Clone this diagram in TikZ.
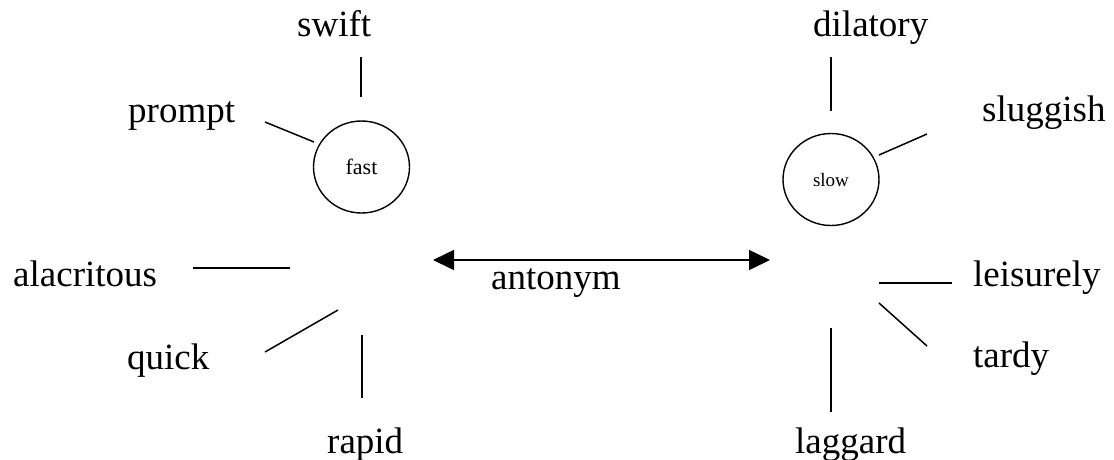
\documentclass[tikz,border=0pt]{standalone}
\usepackage{fontspec}
\setmainfont{Liberation Serif}
\usetikzlibrary{shapes.geometric,arrows.meta}
\begin{document}
\begin{tikzpicture}[x=1pt,y=-1pt,
  word/.style={anchor=base west,inner sep=0pt,font=\fontsize{37}{44}\selectfont},
  hub/.style={draw,ellipse,line width=1.4pt,minimum width=96pt,minimum height=92pt,inner sep=0pt},
  spoke/.style={line width=1.5pt},
  dbl/.style={line width=1.5pt,{Triangle[length=21pt,width=20pt]}-{Triangle[length=21pt,width=20pt]}}]
\useasboundingbox (0,0) rectangle (1114,459);
% hubs
\node[hub,font=\fontsize{22}{26}\selectfont] (fast) at (361.5,167) {fast};
\node[hub,font=\fontsize{19}{23}\selectfont] (slow) at (831,179.5) {slow};
% words
\node[word] (swift) at (297,36) {swift};
\node[word] (prompt) at (128,122) {prompt};
\node[word] (alacritous) at (13,286) {alacritous};
\node[word] (quick) at (127,369) {quick};
\node[word] (rapid) at (327,453) {rapid};
\node[word] (dilatory) at (813,36) {dilatory};
\node[word] (sluggish) at (982,121) {sluggish};
\node[word] (leisurely) at (973,286) {leisurely};
\node[word] (tardy) at (973,367) {tardy};
\node[word] (laggard) at (795,453) {laggard};
\node[word] (antonym) at (491,289) {antonym};
% spoke end points
\coordinate (s1a) at (361,57);  \coordinate (s1b) at (361,97);
\coordinate (p1a) at (265,122); \coordinate (p1b) at (314,142);
\coordinate (a1a) at (193,268); \coordinate (a1b) at (290,268);
\coordinate (q1a) at (265,352); \coordinate (q1b) at (338,310);
\coordinate (r1a) at (362,335); \coordinate (r1b) at (362,398);
\coordinate (d1a) at (831,57);  \coordinate (d1b) at (831,111);
\coordinate (g1a) at (879,155); \coordinate (g1b) at (927,134);
\coordinate (l1a) at (879,283); \coordinate (l1b) at (952,283);
\coordinate (t1a) at (879,303); \coordinate (t1b) at (927,346);
\coordinate (k1a) at (831,328); \coordinate (k1b) at (831,412);
\coordinate (arrL) at (433,260); \coordinate (arrR) at (770,260);
% spokes
\draw[spoke] (s1a) -- (s1b);
\draw[spoke] (p1a) -- (p1b);
\draw[spoke] (a1a) -- (a1b);
\draw[spoke] (q1a) -- (q1b);
\draw[spoke] (r1a) -- (r1b);
\draw[spoke] (d1a) -- (d1b);
\draw[spoke] (g1a) -- (g1b);
\draw[spoke] (l1a) -- (l1b);
\draw[spoke] (t1a) -- (t1b);
\draw[spoke] (k1a) -- (k1b);
% antonym arrow
\draw[dbl] (arrL) -- (arrR);
\end{tikzpicture}
\end{document}
